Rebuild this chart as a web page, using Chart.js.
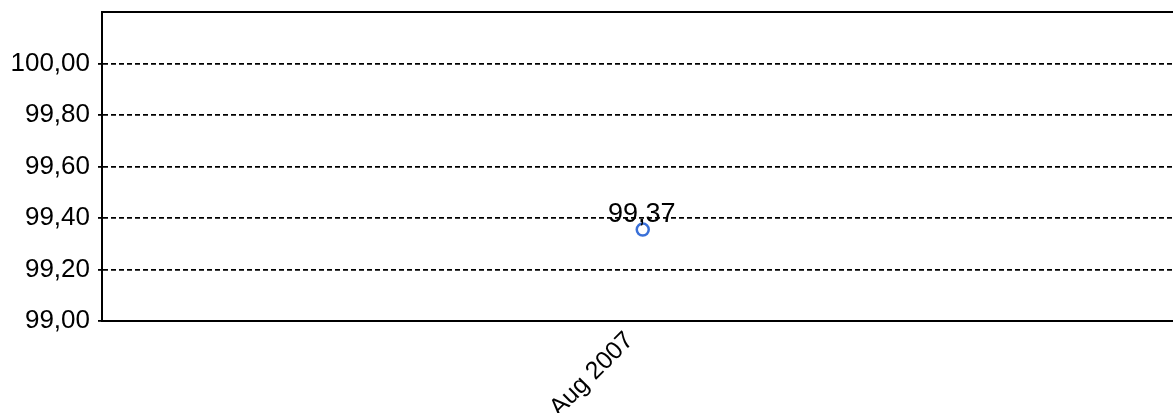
<!DOCTYPE html>
<html>
<head>
<meta charset="utf-8">
<script src="https://cdn.jsdelivr.net/npm/chart.js@4/dist/chart.umd.min.js"></script>
<style>
    html, body { margin: 0; padding: 0; background: #fff; overflow: hidden; }
    #wrap { width: 1192px; height: 413px; }
</style>
</head>
<body>
<div id="wrap"><canvas id="myChart" width="1192" height="413"></canvas></div>
<script>
const labels = ["Aug 2007"];
const values = [99.355];
const valueLabels = ["99,37"];
const yTicks = [99.0, 99.2, 99.4, 99.6, 99.8, 100.0];

const FONT = "'Liberation Sans', Arial, sans-serif";

function fmt(v) {
    return v.toFixed(2).replace(".", ",");
}

// top frame line + value labels
const framePlugin = {
    id: "frame",
    afterDraw(chart) {
        const {ctx, chartArea} = chart;
        ctx.save();
        ctx.strokeStyle = "#000";
        ctx.lineWidth = 2;
        ctx.beginPath();
        ctx.moveTo(chartArea.left - 1, chartArea.top);
        ctx.lineTo(chartArea.right, chartArea.top);
        ctx.stroke();

        const meta = chart.getDatasetMeta(0);
        ctx.fillStyle = "#000";
        ctx.font = "27px " + FONT;
        ctx.textAlign = "center";
        ctx.textBaseline = "alphabetic";
        meta.data.forEach((pt, i) => {
            ctx.fillText(valueLabels[i], pt.x - 1, pt.y - 8);
        });
        ctx.restore();
    }
};

const ctx = document.getElementById("myChart").getContext("2d");
new Chart(ctx, {
    type: "line",
    data: {
        labels: labels,
        datasets: [{
            data: values,
            borderColor: "#3a70d8",
            backgroundColor: "rgba(255,255,255,0)",
            pointRadius: 6,
            pointBorderWidth: 2.5,
            pointBorderColor: "#3a70d8",
            pointBackgroundColor: "rgba(255,255,255,0)",
            showLine: false
        }]
    },
    plugins: [framePlugin],
    options: {
        responsive: false,
        animation: false,
        layout: {
            padding: {left: 0, top: 12, right: 0, bottom: 0}
        },
        plugins: {
            legend: {display: false},
            tooltip: {enabled: false}
        },
        scales: {
            x: {
                offset: true,
                grid: {display: false},
                border: {color: "#000", width: 2},
                afterFit: function(scale) {
                    scale.height = 92;
                },
                ticks: {
                    color: "#000",
                    minRotation: 45,
                    maxRotation: 45,
                    padding: -3,
                    labelOffset: -13,
                    font: {family: FONT, size: 25}
                }
            },
            y: {
                min: 99,
                max: 100.2,
                afterBuildTicks: function(scale) {
                    scale.ticks = yTicks.map(v => ({value: v}));
                },
                afterFit: function(scale) {
                    scale.width = 102;
                    scale.paddingTop = 0;
                    scale.paddingBottom = 0;
                },
                grid: {
                    color: "#000",
                    lineWidth: 1.8,
                    tickLength: 4,
                    tickColor: "#000"
                },
                border: {color: "#000", width: 2, dash: [5, 3]},
                ticks: {
                    color: "#000",
                    padding: 8,
                    callback: (v) => fmt(v),
                    font: {family: FONT, size: 26}
                }
            }
        }
    }
});
</script>
</body>
</html>
